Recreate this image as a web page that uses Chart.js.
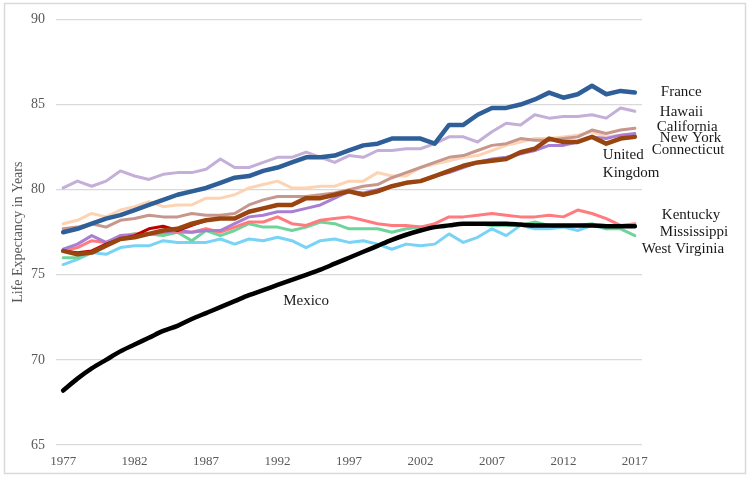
<!DOCTYPE html>
<html>
<head>
<meta charset="utf-8">
<script src="https://cdn.jsdelivr.net/npm/chart.js@4.4.1/dist/chart.umd.min.js"></script>
<style>
  body { margin: 0; background: #fff; }
</style>
</head>
<body>
<canvas id="myChart" width="750" height="479"></canvas>
<script>
const years = [
    "1977", "1978", "1979", "1980", "1981", "1982", "1983", "1984", "1985", "1986",
    "1987", "1988", "1989", "1990", "1991", "1992", "1993", "1994", "1995", "1996",
    "1997", "1998", "1999", "2000", "2001", "2002", "2003", "2004", "2005", "2006",
    "2007", "2008", "2009", "2010", "2011", "2012", "2013", "2014", "2015", "2016",
    "2017"
];

const france = [
    77.5, 77.7, 78.0, 78.3, 78.5, 78.8, 79.1, 79.4, 79.7, 79.9,
    80.1, 80.4, 80.7, 80.8, 81.1, 81.3, 81.6, 81.9, 81.9, 82.0,
    82.3, 82.6, 82.7, 83.0, 83.0, 83.0, 82.7, 83.8, 83.8, 84.4,
    84.8, 84.8, 85.0, 85.3, 85.7, 85.4, 85.6, 86.1, 85.6, 85.8,
    85.7
];
const hawaii = [
    80.1, 80.5, 80.2, 80.5, 81.1, 80.8, 80.6, 80.9, 81.0, 81.0,
    81.2, 81.8, 81.3, 81.3, 81.6, 81.9, 81.9, 82.2, 81.9, 81.6,
    82.0, 81.9, 82.3, 82.3, 82.4, 82.4, 82.7, 83.1, 83.1, 82.8,
    83.4, 83.9, 83.8, 84.4, 84.2, 84.3, 84.3, 84.4, 84.2, 84.8,
    84.6
];
const california = [
    77.7, 77.8, 78.0, 77.8, 78.2, 78.3, 78.5, 78.4, 78.4, 78.6,
    78.5, 78.5, 78.6, 79.1, 79.4, 79.6, 79.6, 79.6, 79.7, 79.8,
    80.0, 80.2, 80.3, 80.7, 81.0, 81.3, 81.6, 81.9, 82.0, 82.3,
    82.6, 82.7, 83.0, 82.9, 82.9, 83.0, 83.1, 83.5, 83.3, 83.5,
    83.6
];
const newYork = [
    76.4, 76.2, 76.3, 76.7, 77.1, 77.2, 77.4, 77.6, 77.7, 78.0,
    78.2, 78.3, 78.3, 78.7, 78.9, 79.1, 79.1, 79.5, 79.5, 79.7,
    79.9, 79.7, 79.9, 80.2, 80.4, 80.5, 80.8, 81.1, 81.4, 81.6,
    81.7, 81.8, 82.2, 82.4, 83.0, 82.8, 82.8, 83.1, 82.7, 83.0,
    83.1
];
const redSeries = [
    76.4, 76.3, 76.4, 76.8, 77.1, 77.3, 77.7, 77.85, 77.6, 77.9,
    78.2, 78.3, 78.3, 78.7, 78.9, 79.1, 79.1, 79.5, 79.5, 79.7,
    79.9, 79.7, 79.9, 80.2, 80.4, 80.5, 80.8, 81.1, 81.4, 81.6,
    81.7, 81.8, 82.2, 82.4, 83.0, 82.8, 82.8, 83.1, 82.7, 83.0,
    83.1
];
const connecticut = [
    76.5, 76.8, 77.3, 76.9, 77.3, 77.3, 77.4, 77.5, 77.6, 77.5,
    77.6, 77.6, 78.0, 78.4, 78.5, 78.7, 78.7, 78.9, 79.1, 79.5,
    79.9, 79.8, 80.0, 80.2, 80.4, 80.5, 80.8, 81.0, 81.3, 81.6,
    81.8, 81.9, 82.1, 82.3, 82.6, 82.6, 82.8, 83.1, 83.0, 83.2,
    83.3
];
const unitedKingdom = [
    78.0, 78.2, 78.6, 78.4, 78.8, 79.0, 79.3, 79.0, 79.1, 79.1,
    79.5, 79.5, 79.7, 80.1, 80.3, 80.5, 80.1, 80.1, 80.2, 80.2,
    80.5, 80.5, 81.0, 80.8, 80.8, 81.3, 81.5, 81.7, 81.9, 82.0,
    82.3, 82.6, 82.8, 83.0, 83.0, 83.1, 83.2, 83.4, 83.1, 83.2,
    83.2
];
const kentucky = [
    76.4, 76.6, 77.0, 76.9, 77.2, 77.4, 77.4, 77.5, 77.5, 77.5,
    77.7, 77.5, 77.8, 78.1, 78.1, 78.4, 78.0, 77.9, 78.2, 78.3,
    78.4, 78.2, 78.0, 77.9, 77.9, 77.8, 78.0, 78.4, 78.4, 78.5,
    78.6, 78.5, 78.4, 78.4, 78.5, 78.4, 78.8, 78.6, 78.3, 77.9,
    78.0
];
const mississippi = [
    76.0, 76.0, 76.3, 76.7, 77.3, 77.4, 77.4, 77.3, 77.5, 77.0,
    77.6, 77.3, 77.6, 78.0, 77.8, 77.8, 77.6, 77.8, 78.1, 78.0,
    77.7, 77.7, 77.7, 77.5, 77.7, 77.8, 77.8, 77.9, 78.0, 78.0,
    77.9, 77.9, 77.9, 78.1, 77.9, 77.9, 77.9, 78.0, 77.7, 77.7,
    77.3
];
const westVirginia = [
    75.6, 75.9, 76.3, 76.2, 76.6, 76.7, 76.7, 77.0, 76.9, 76.9,
    76.9, 77.1, 76.8, 77.1, 77.0, 77.2, 77.0, 76.6, 77.0, 77.1,
    76.9, 77.0, 76.8, 76.5, 76.8, 76.7, 76.8, 77.4, 76.9, 77.2,
    77.7, 77.3, 77.9, 77.7, 77.7, 77.8, 77.6, 77.9, 77.7, 77.8,
    77.9
];
const mexico = [
    68.2, 68.9, 69.5, 70.0, 70.5, 70.9, 71.3, 71.7, 72.0, 72.4,
    72.75, 73.1, 73.45, 73.8, 74.1, 74.4, 74.7, 75.0, 75.3, 75.65,
    76.0, 76.35, 76.7, 77.05, 77.35, 77.6, 77.8, 77.9, 78.0, 78.0,
    78.0, 78.0, 77.95, 77.9, 77.9, 77.9, 77.9, 77.9, 77.85, 77.85,
    77.85
];

const yTicks = [65, 70, 75, 80, 85, 90];

// text labels next to the lines: [text, year index, value, x shift in px, align]
const notes = [
    ["France", 40, 85.76, 26, "left"],
    ["Hawaii", 40, 84.53, 25, "left"],
    ["California", 40, 83.66, 22, "left"],
    ["New York", 40, 83.02, 25, "left"],
    ["Connecticut", 40, 82.33, 17, "left"],
    ["United", 40, 82.03, -32, "left"],
    ["Kingdom", 40, 80.99, -32, "left"],
    ["Kentucky", 40, 78.49, 27, "left"],
    ["Mississippi", 40, 77.5, 25, "left"],
    ["West Virginia", 40, 76.51, 7, "left"],
    ["Mexico", 17, 73.43, 0, "center"]
];

const serif = "'Liberation Serif', 'DejaVu Serif', serif";

const line = (label, data, color, width) => ({
    label: label,
    data: data,
    borderColor: color,
    backgroundColor: color,
    borderWidth: width,
    pointRadius: 0,
    pointHoverRadius: 0,
    tension: 0,
    borderJoinStyle: "round",
    borderCapStyle: "round",
});

const frameBox = {
    id: "frameBox",
    beforeDraw(chart) {
        const ctx = chart.ctx;
        ctx.save();
        ctx.fillStyle = "#fff";
        ctx.fillRect(0, 0, chart.width, chart.height);
        ctx.strokeStyle = "#d9d9d9";
        ctx.lineWidth = 1.5;
        ctx.strokeRect(4.5, 3.5, 741, 470);
        ctx.restore();
    },
};

const lineNotes = {
    id: "lineNotes",
    afterDatasetsDraw(chart) {
        const ctx = chart.ctx;
        const xs = chart.scales.x;
        const ys = chart.scales.y;
        ctx.save();
        ctx.font = "15px " + serif;
        ctx.fillStyle = "#1a1a1a";
        ctx.textBaseline = "middle";
        notes.forEach((n) => {
            ctx.textAlign = n[4];
            ctx.fillText(n[0], xs.getPixelForValue(n[1]) + n[3], ys.getPixelForValue(n[2]));
        });
        ctx.restore();
    },
};

const mexicoLine = line("Mexico", mexico, "#000000", 4.5);
mexicoLine.cubicInterpolationMode = "monotone";

const data = {
    labels: years,
    datasets: [
        line("France", france, "#2f5f98", 4.5),
        mexicoLine,
        line("New York", newYork, "#9a4510", 4.5),
        line("Series 11", redSeries, "#c00000", 3),
        line("Hawaii", hawaii, "#c3afd7", 3),
        line("California", california, "#c7968d", 3),
        line("Connecticut", connecticut, "#a87fd4", 3),
        line("United Kingdom", unitedKingdom, "#fdd4b3", 3),
        line("Kentucky", kentucky, "#ff7b7e", 3),
        line("Mississippi", mississippi, "#6fd39c", 3),
        line("West Virginia", westVirginia, "#78d3f6", 3),
    ],
};

const config = {
    type: "line",
    data: data,
    plugins: [frameBox, lineNotes],
    options: {
        responsive: false,
        animation: false,
        devicePixelRatio: 1,
        layout: {
            padding: { left: 0, top: 15, right: 108, bottom: 0 },
        },
        plugins: {
            legend: { display: false },
            tooltip: { enabled: false },
        },
        scales: {
            x: {
                offset: true,
                grid: { display: false, drawTicks: false },
                border: { display: false },
                ticks: {
                    autoSkip: false,
                    maxRotation: 0,
                    padding: 9,
                    color: "#595959",
                    font: { family: serif, size: 13 },
                    callback: (v, i) => (i % 5 === 0 ? years[i] : ""),
                },
                afterFit: (s) => { s.height = 34; },
            },
            y: {
                min: 65,
                max: 90,
                afterBuildTicks: (s) => { s.ticks = yTicks.map((v) => ({ value: v })); },
                grid: { color: "#d9d9d9", lineWidth: 1.3, drawTicks: false },
                border: { display: false },
                ticks: {
                    padding: 11,
                    color: "#595959",
                    font: { family: serif, size: 14 },
                },
                title: {
                    display: true,
                    text: "Life Expectancy in Years",
                    color: "#595959",
                    font: { family: serif, size: 14 },
                    padding: { top: 10, bottom: 0 },
                },
                afterFit: (s) => { s.width = 56; },
            },
        },
    },
};

const myChart = new Chart(document.getElementById("myChart"), config);
</script>
</body>
</html>
